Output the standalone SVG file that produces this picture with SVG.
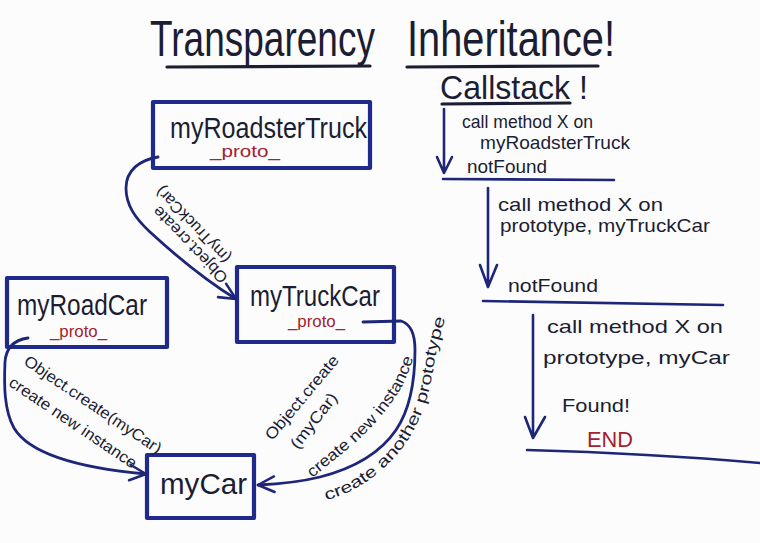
<svg xmlns="http://www.w3.org/2000/svg" width="760" height="543" viewBox="0 0 760 543">
<defs>
<style>
text{font-family:"Liberation Sans","DejaVu Sans",Arial,sans-serif}
.ink{fill:#1b1d33}
.title{font-size:50px}
.node{font-size:29px;fill:#1b1d33}
.proto{font-size:16px;fill:#a3222e}
.lbl{font-size:16px;fill:#1b1d33}
.cs{font-size:19px;fill:#1b1d33}
.box{fill:none;stroke:#1f2a8c;stroke-width:4.2;stroke-linejoin:round}
.conn{fill:none;stroke:#1d2678;stroke-width:2.8;stroke-linecap:round}
.ul{fill:none;stroke:#1b1d33;stroke-width:3.2;stroke-linecap:round}
.nv{fill:none;stroke:#1d2678;stroke-width:2.6;stroke-linecap:round;stroke-linejoin:round}
</style>
<marker id="arr" viewBox="0 0 12 12" refX="11.5" refY="6" markerWidth="17" markerHeight="17" markerUnits="userSpaceOnUse" orient="auto" overflow="visible">
<path d="M0,0.5 L11.5,6 L0,11.5" fill="none" stroke="#1d2678" stroke-width="1.8" stroke-linecap="round" stroke-linejoin="round"/>
</marker>
<path id="tp1" d="M312,478 C328,465 343,453 355,443 C373,427 389,408 401,388 C408,375 412,363 416,348"/>
<path id="tp2" d="M326,500 C356,493 386,471 406,443 C421,421 429,396 433,371 C436,351 441,331 449,307"/>
</defs>
<rect x="0" y="0" width="760" height="543" fill="#fcfcfc"/>

<g id="title">
<text class="ink title" x="150" y="56" textLength="225" lengthAdjust="spacingAndGlyphs">Transparency</text>
<text class="ink title" x="407" y="56" textLength="208" lengthAdjust="spacingAndGlyphs">Inheritance!</text>
<path class="ul" d="M167,67 L370,66"/>
<path class="ul" d="M407,67 L598,66"/>
</g>

<g id="node-myRoadsterTruck">
<rect class="box" x="153" y="102" width="217" height="66"/>
<text class="node" x="170" y="138" textLength="197" lengthAdjust="spacingAndGlyphs">myRoadsterTruck</text>
<text class="proto" x="210" y="157" textLength="70" lengthAdjust="spacingAndGlyphs">_proto_</text>
</g>

<g id="node-myRoadCar">
<rect class="box" x="7" y="278" width="160" height="69"/>
<text class="node" x="17" y="315" textLength="130" lengthAdjust="spacingAndGlyphs">myRoadCar</text>
<text class="proto" x="50" y="337" textLength="57" lengthAdjust="spacingAndGlyphs">_proto_</text>
</g>

<g id="node-myTruckCar">
<rect class="box" x="237" y="267" width="157" height="75"/>
<text class="node" x="250" y="306" textLength="130" lengthAdjust="spacingAndGlyphs">myTruckCar</text>
<text class="proto" x="288" y="327" textLength="57" lengthAdjust="spacingAndGlyphs">_proto_</text>
</g>

<g id="node-myCar">
<rect class="box" x="147" y="455" width="107" height="63"/>
<text class="node" x="160" y="494" textLength="87" lengthAdjust="spacingAndGlyphs">myCar</text>
</g>

<g id="connectors">
<path class="conn" marker-end="url(#arr)" d="M158,157 C140,160 126,170 126,188 C126,205 135,218 150,232 C175,255 205,280 236,299"/>
<path class="conn" marker-end="url(#arr)" d="M28,338 C14,340 6,348 5,362 C4,385 4,410 14,428 C30,455 80,468 146,474"/>
<path class="conn" marker-end="url(#arr)" d="M363,322 L401,321 C411,324 415,335 415,350 C415,380 411,408 396,430 C381,452 355,468 320,477 C300,482 280,484 258,485"/>
<text class="lbl" transform="translate(194,241) rotate(-134)" text-anchor="middle" textLength="100" lengthAdjust="spacingAndGlyphs">Object.create</text>
<text class="lbl" transform="translate(197,221) rotate(-134)" text-anchor="middle" textLength="100" lengthAdjust="spacingAndGlyphs">(myTruckCar)</text>
<text class="lbl" transform="translate(90,409) rotate(34)" text-anchor="middle" textLength="162" lengthAdjust="spacingAndGlyphs">Object.create(myCar)</text>
<text class="lbl" transform="translate(70,427) rotate(34)" text-anchor="middle" textLength="150" lengthAdjust="spacingAndGlyphs">create new instance</text>
<text class="lbl" transform="translate(306,401) rotate(-50)" text-anchor="middle" textLength="105" lengthAdjust="spacingAndGlyphs">Object.create</text>
<text class="lbl" transform="translate(318,424) rotate(-52)" text-anchor="middle" textLength="66" lengthAdjust="spacingAndGlyphs">(myCar)</text>
<text class="lbl" textLength="160" lengthAdjust="spacingAndGlyphs"><textPath href="#tp1">create new instance</textPath></text>
<text class="lbl" textLength="232" lengthAdjust="spacingAndGlyphs"><textPath href="#tp2">create another prototype</textPath></text>
</g>

<g id="callstack">
<text class="ink" x="440" y="99" font-size="34" textLength="148" lengthAdjust="spacingAndGlyphs">Callstack !</text>
<path class="ul" d="M442,104 L570,103"/>
<path class="nv" d="M444,109 L444,172 M437,157 L444,173 L452,157"/>
<text class="cs" x="462" y="128" textLength="131" lengthAdjust="spacingAndGlyphs">call method X on</text>
<text class="cs" x="480" y="149" textLength="150" lengthAdjust="spacingAndGlyphs">myRoadsterTruck</text>
<text class="cs" x="467" y="173" textLength="80" lengthAdjust="spacingAndGlyphs">notFound</text>
<path class="nv" stroke-width="3" d="M443,179 L614,180"/>

<path class="nv" d="M488,188 L488,286 M480,265 L488,287 L497,265"/>
<text class="cs" x="498" y="211" textLength="165" lengthAdjust="spacingAndGlyphs">call method X on</text>
<text class="cs" x="500" y="232" textLength="210" lengthAdjust="spacingAndGlyphs">prototype, myTruckCar</text>
<text class="cs" x="508" y="292" textLength="90" lengthAdjust="spacingAndGlyphs">notFound</text>
<path class="nv" stroke-width="3" d="M483,301 L723,305"/>

<path class="nv" d="M533,315 L533,436 M525,417 L533,438 L545,417"/>
<text class="cs" x="547" y="333" textLength="176" lengthAdjust="spacingAndGlyphs">call method X on</text>
<text class="cs" x="543" y="364" textLength="187" lengthAdjust="spacingAndGlyphs">prototype, myCar</text>
<text class="cs" x="562" y="412" textLength="68" lengthAdjust="spacingAndGlyphs">Found!</text>
<text x="587" y="447" font-size="22" fill="#a3222e" textLength="46" lengthAdjust="spacingAndGlyphs">END</text>
<path class="nv" stroke-width="3" d="M527,450 C600,452 680,456 760,463"/>
</g>
</svg>
